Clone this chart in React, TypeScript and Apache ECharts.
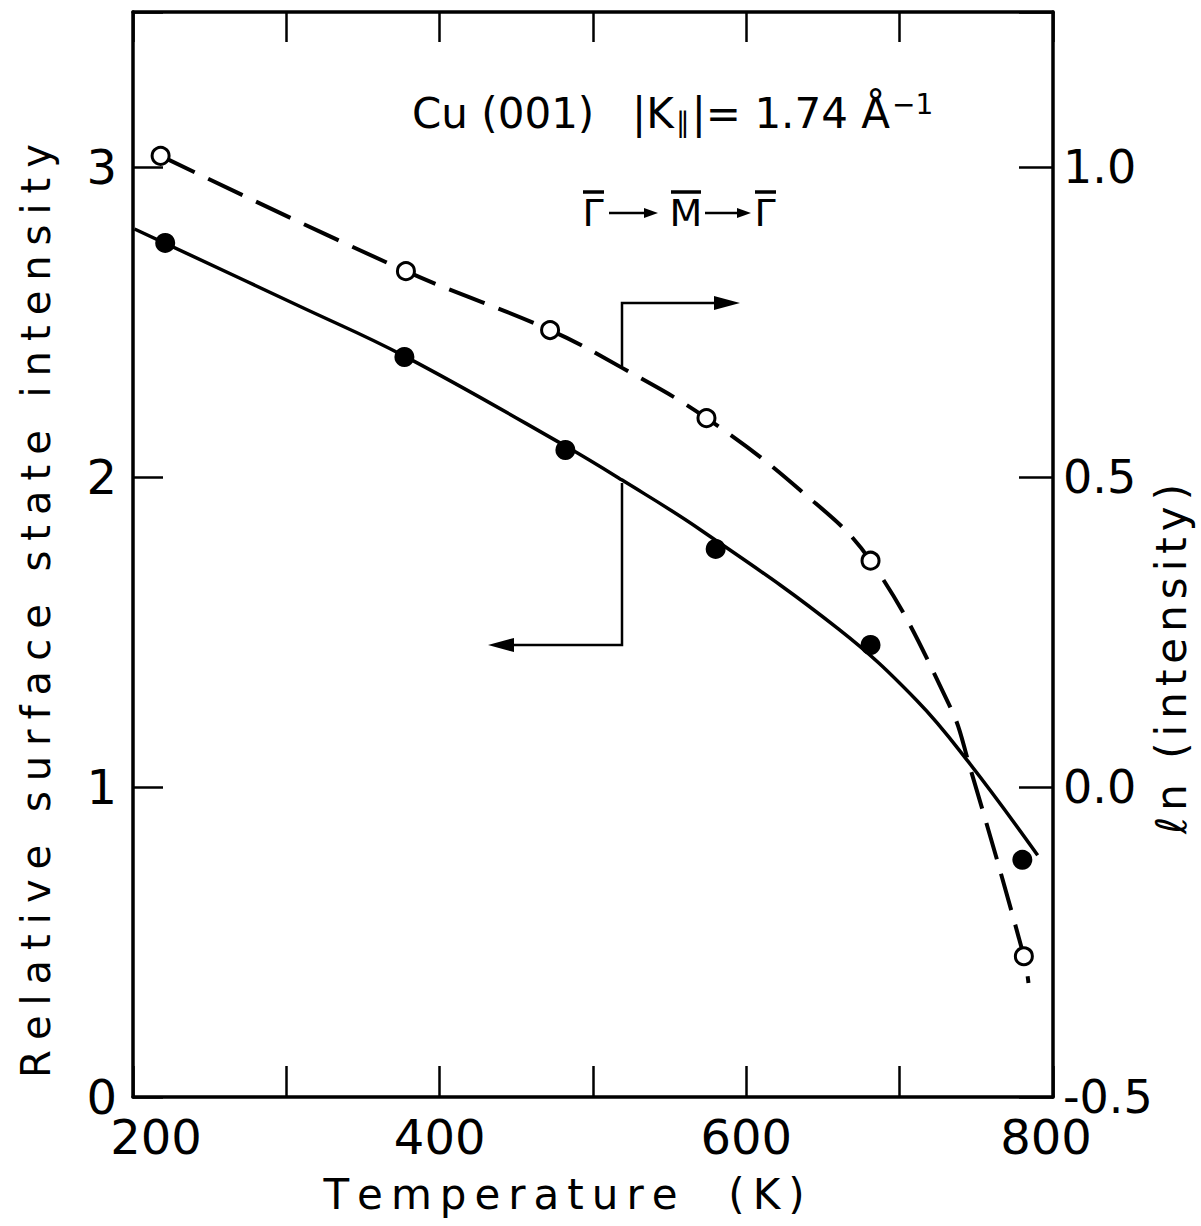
import React, { useEffect, useRef } from "react";
import * as echarts from "echarts";

// Temperature (K) tick values
const xTicks = [200, 300, 400, 500, 600, 700, 800];
const xLabelValues = [200, 400, 600, 800];
const leftTicks = [0, 1, 2, 3];
const rightTicks = [-0.5, 0.0, 0.5, 1.0];

// Filled circles: relative surface state intensity (left axis)
const filledT = [221, 377, 482, 580, 681, 780];
const filledI = [2.755, 2.387, 2.087, 1.768, 1.458, 0.765];

// Open circles: ln(intensity) (right axis)
const openT = [218, 378, 472, 574, 681, 781];
const openLn = [1.018, 0.832, 0.737, 0.595, 0.365, -0.273];

// Solid fitted curve (left axis)
const solidCurveT = [201, 309, 377, 482, 519, 570, 660, 711, 745, 790];
const solidCurveI = [2.8, 2.55, 2.39, 2.1, 1.99, 1.83, 1.51, 1.28, 1.08, 0.78];

// Dashed fitted curve (right axis)
const dashCurveT = [218, 378, 472, 519, 574, 635, 681, 733, 745, 781, 784];
const dashCurveLn = [1.018, 0.832, 0.737, 0.676, 0.595, 0.479, 0.365, 0.129, 0.039, -0.273, -0.316];

const FONT = "DejaVu Sans";

// letter-spaced text via rich tokens
function spaced(s: string): string {
  return s
    .split("")
    .map((ch) => (ch === " " ? "{s| }" : `{c|${ch}}`))
    .join("");
}
function spacedRich(size: number, gap: number) {
  return {
    c: { fontFamily: FONT, fontSize: size, color: "#000", padding: [0, gap, 0, 0] },
    s: { fontFamily: FONT, fontSize: size, color: "#000", padding: [0, gap, 0, 0] },
  };
}

export default function App() {
  const ref = useRef<HTMLDivElement>(null);

  useEffect(() => {
    if (!ref.current) return;
    const chart = echarts.init(ref.current, undefined, { renderer: "svg" });
    const zip = (a: number[], b: number[]) => a.map((v, i) => [v, b[i]]);

    const axisLineStyle = { color: "#000", width: 3.5 };
    const tickStyle = { color: "#000", width: 2.5 };

    const arrowY = 213;

    const option: any = {
      animation: false,
      backgroundColor: "#fff",
      grid: { left: 133, right: 148, top: 12, bottom: 129, containLabel: false },
      xAxis: [
        {
          type: "value",
          min: xTicks[0],
          max: xTicks[xTicks.length - 1],
          interval: 100,
          position: "bottom",
          splitLine: { show: false },
          axisLine: { show: true, onZero: false, lineStyle: axisLineStyle },
          axisTick: { show: true, inside: true, length: 31, lineStyle: tickStyle },
          axisLabel: {
            show: true,
            margin: 16,
            fontFamily: FONT,
            fontSize: 48,
            color: "#000",
            formatter: (v: number) => {
              if (!xLabelValues.includes(v)) return "";
              if (v === 200) return "{first|" + v + "}";
              if (v === 800) return "{last|" + v + "}";
              return String(v);
            },
            rich: {
              first: { fontFamily: FONT, fontSize: 48, color: "#000", padding: [0, 0, 0, 46] },
              last: { fontFamily: FONT, fontSize: 48, color: "#000", padding: [0, 14, 0, 0] },
            },
          },
        },
        {
          type: "value",
          min: xTicks[0],
          max: xTicks[xTicks.length - 1],
          interval: 100,
          position: "top",
          splitLine: { show: false },
          axisLine: { show: true, onZero: false, lineStyle: axisLineStyle },
          axisTick: { show: true, inside: true, length: 30, lineStyle: tickStyle },
          axisLabel: { show: false },
        },
      ],
      yAxis: [
        {
          type: "value",
          min: 0,
          max: 3.5,
          interval: 1,
          position: "left",
          splitLine: { show: false },
          axisLine: { show: true, onZero: false, lineStyle: axisLineStyle },
          axisTick: { show: true, inside: true, length: 30, lineStyle: tickStyle },
          axisLabel: {
            show: true,
            margin: 16,
            fontFamily: FONT,
            fontSize: 48,
            color: "#000",
            formatter: (v: number) => (leftTicks.includes(v) ? String(v) : ""),
          },
        },
        {
          type: "value",
          min: -0.5,
          max: 1.25,
          interval: 0.5,
          position: "right",
          splitLine: { show: false },
          axisLine: { show: true, onZero: false, lineStyle: axisLineStyle },
          axisTick: { show: true, inside: true, length: 34, lineStyle: tickStyle },
          axisLabel: {
            show: true,
            margin: 10,
            fontFamily: FONT,
            fontSize: 46,
            color: "#000",
            formatter: (v: number) =>
              rightTicks.some((r) => Math.abs(r - v) < 1e-9) ? v.toFixed(1) : "",
          },
        },
      ],
      series: [
        {
          type: "line",
          name: "solid fit",
          xAxisIndex: 0,
          yAxisIndex: 0,
          data: zip(solidCurveT, solidCurveI),
          smooth: 0.4,
          symbol: "none",
          lineStyle: { color: "#000", width: 3.5 },
          z: 2,
        },
        {
          type: "line",
          name: "dashed fit",
          xAxisIndex: 0,
          yAxisIndex: 1,
          data: zip(dashCurveT, dashCurveLn),
          smooth: 0.4,
          symbol: "none",
          lineStyle: { color: "#000", width: 4, type: [38, 15] },
          z: 2,
        },
        {
          type: "scatter",
          name: "intensity",
          xAxisIndex: 0,
          yAxisIndex: 0,
          data: zip(filledT, filledI),
          symbol: "circle",
          symbolSize: 20,
          itemStyle: { color: "#000", opacity: 1 },
          z: 3,
        },
        {
          type: "scatter",
          name: "ln intensity",
          xAxisIndex: 0,
          yAxisIndex: 1,
          data: zip(openT, openLn),
          symbol: "circle",
          symbolSize: 17,
          itemStyle: { color: "#fff", borderColor: "#000", borderWidth: 3, opacity: 1 },
          z: 3,
        },
      ],
      graphic: [
        // Left axis title
        {
          type: "text",
          x: 36,
          y: 606,
          rotation: Math.PI / 2,
          style: {
            text: spaced("Relative surface state intensity"),
            rich: spacedRich(40, 10),
            textAlign: "center",
            textVerticalAlign: "middle",
          },
        },
        // Right axis title
        {
          type: "text",
          x: 1171,
          y: 656,
          rotation: Math.PI / 2,
          style: {
            text: spaced("ℓn (intensity)"),
            rich: spacedRich(42, 6),
            textAlign: "center",
            textVerticalAlign: "middle",
          },
        },
        // X axis title
        {
          type: "text",
          x: 568,
          y: 1194,
          style: {
            text: spaced("Temperature  (K)"),
            rich: spacedRich(42, 8),
            textAlign: "center",
            textVerticalAlign: "middle",
          },
        },
        // Annotation line 1
        {
          type: "text",
          x: 412,
          y: 113,
          style: {
            text: "Cu (001)",
            font: `42px '${FONT}'`,
            fill: "#000",
            textAlign: "left",
            textVerticalAlign: "middle",
          },
        },
        {
          type: "text",
          x: 632,
          y: 113,
          style: {
            text: "{a||K}{sub|∥}{a||= 1.74 Å}{sup|−1}",
            textAlign: "left",
            textVerticalAlign: "middle",
            rich: {
              a: { fontFamily: FONT, fontSize: 42, color: "#000" },
              sub: { fontFamily: FONT, fontSize: 28, color: "#000", verticalAlign: "bottom", padding: [14, 2, 0, 2] },
              sup: { fontFamily: FONT, fontSize: 28, color: "#000", verticalAlign: "top", padding: [0, 0, 18, 2] },
            },
          },
        },
        // Annotation line 2: Γ̄ → M̄ → Γ̄
        ...[
          ["Γ", 593],
          ["M", 686],
          ["Γ", 765],
        ].map(([t, x]) => ({
          type: "text",
          x: x as number,
          y: arrowY,
          style: {
            text: t as string,
            font: `38px '${FONT}'`,
            fill: "#000",
            textAlign: "center",
            textVerticalAlign: "middle",
          },
        })),
        ...[
          [583, 604],
          [671, 701],
          [755, 776],
        ].map(([a, b]) => ({
          type: "line",
          shape: { x1: a, y1: 192, x2: b, y2: 192 },
          style: { stroke: "#000", lineWidth: 3.5 },
        })),
        ...[
          [609, 658],
          [705, 751],
        ].flatMap(([a, b]) => [
          {
            type: "line",
            shape: { x1: a, y1: arrowY, x2: b - 10, y2: arrowY },
            style: { stroke: "#000", lineWidth: 2.5 },
          },
          {
            type: "polygon",
            shape: { points: [[b, arrowY], [b - 14, arrowY - 5], [b - 14, arrowY + 5]] },
            style: { fill: "#000" },
          },
        ]),
        // Axis pointer arrows
        {
          type: "polyline",
          shape: { points: [[622, 368], [622, 303], [722, 303]] },
          style: { stroke: "#000", lineWidth: 2.5, fill: null },
        },
        {
          type: "polygon",
          shape: { points: [[740, 303], [714, 296], [714, 310]] },
          style: { fill: "#000" },
        },
        {
          type: "polyline",
          shape: { points: [[622, 483], [622, 645], [508, 645]] },
          style: { stroke: "#000", lineWidth: 2.5, fill: null },
        },
        {
          type: "polygon",
          shape: { points: [[488, 645], [514, 638], [514, 652]] },
          style: { fill: "#000" },
        },
      ],
    };

    chart.setOption(option);
    return () => chart.dispose();
  }, []);

  return (
    <div
      ref={ref}
      style={{ position: "absolute", left: 0, top: 0, width: 1201, height: 1226, background: "#fff" }}
    />
  );
}
